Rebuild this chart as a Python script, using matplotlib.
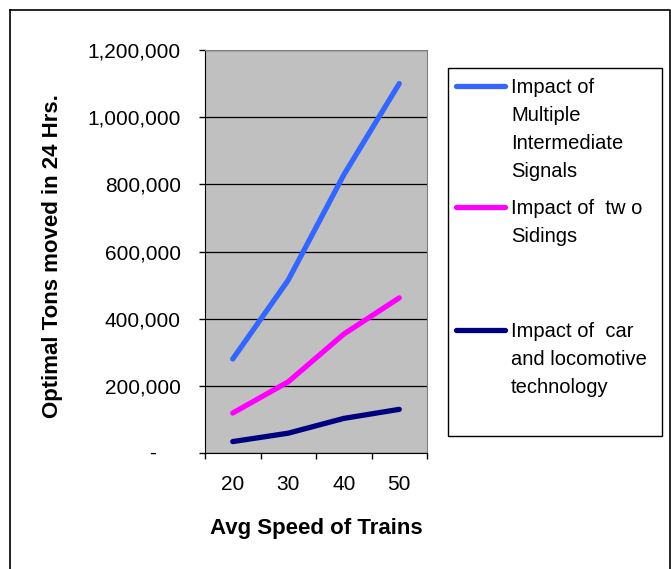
import matplotlib.pyplot as plt
from matplotlib.lines import Line2D
from matplotlib.patches import Rectangle
from matplotlib.ticker import FuncFormatter, FixedLocator

plt.rcParams['font.family'] = ['Liberation Sans', 'DejaVu Sans']

speeds = ['20', '30', '40', '50']
signals = [280000, 515000, 828000, 1100000]
sidings = [119000, 212000, 354000, 462000]
technology = [34000, 59000, 103000, 130000]

series_names = ['Impact of\nMultiple\nIntermediate\nSignals',
                'Impact of  tw o\nSidings',
                'Impact of  car\nand locomotive\ntechnology']
series_colors = ['#3366FF', '#FF00FF', '#000080']

W, H = 671, 569
fig = plt.figure(figsize=(W / 100, H / 100), dpi=100)


def px(x, y):
    # pixel position (from top-left) to figure fraction
    return x / W, 1 - y / H


ax = fig.add_axes([205 / W, (H - 453) / H, 222 / W, 403 / H])
ax.set_facecolor('#C0C0C0')

xs = range(len(speeds))
for vals, col in zip([signals, sidings, technology], series_colors):
    ax.plot(xs, vals, color=col, lw=3.8, solid_capstyle='round')

ax.set_xlim(-0.5, len(speeds) - 0.5)
ax.set_ylim(0, 1200000)
ax.set_yticks(range(0, 1200001, 200000))
ax.yaxis.set_major_formatter(FuncFormatter(lambda v, p: '' if v == 0 else '{:,.0f}'.format(v)))
ax.grid(axis='y', color='black', lw=0.9)
ax.set_axisbelow(True)
# zero shown as a dash, set further left (accounting style)
ax.annotate('-', xy=(0, 0), xycoords=('axes fraction', 'data'), xytext=(-49, 0),
            textcoords='offset pixels', ha='right', va='center', fontsize=15)

# category boundaries carry the ticks, centres carry the labels
ax.xaxis.set_major_locator(FixedLocator([i - 0.5 for i in range(len(speeds) + 1)]))
ax.xaxis.set_minor_locator(FixedLocator(list(xs)))
ax.set_xticklabels([])
ax.set_xticklabels(speeds, minor=True)
ax.tick_params(axis='x', which='major', length=4.3, width=1, direction='out')
ax.tick_params(axis='x', which='minor', length=0, pad=16, labelsize=15)
ax.tick_params(axis='y', length=4.3, width=1, direction='out', pad=13, labelsize=15)

for s in ['top', 'right']:
    ax.spines[s].set_color('#808080')
for s in ['left', 'bottom']:
    ax.spines[s].set_color('black')

ax.set_xlabel('Avg Speed of Trains', fontsize=16, fontweight='bold', labelpad=17)
ax.set_ylabel('Optimal Tons moved in 24 Hrs.', fontsize=16, fontweight='bold')
ax.yaxis.set_label_coords(-0.64, 0.489)

# legend box
x0, y0 = px(448, 436)
x1, y1 = px(662, 68)
fig.add_artist(Rectangle((x0, y0), x1 - x0, y1 - y0, transform=fig.transFigure,
                         fill=False, edgecolor='black', lw=1))
entry_top = [86, 207, 330]
for name, col, ty in zip(series_names, series_colors, entry_top):
    lx0, ly = px(456, ty)
    lx1, _ = px(505, ty)
    fig.add_artist(Line2D([lx0, lx1], [ly, ly], transform=fig.transFigure,
                          color=col, lw=3.8, solid_capstyle='round'))
    tx, _ = px(511, ty)
    _, ty_top = px(0, ty - 8)
    fig.text(tx, ty_top, name, fontsize=14.5, va='top', ha='left', linespacing=1.6)

# outer frame
bx0, by0 = px(9.5, 10)
bx1, _ = px(670, 10)
fig.add_artist(Line2D([bx0, bx1, bx1], [by0, by0, 0], transform=fig.transFigure, color='black', lw=1.2))
fig.add_artist(Line2D([bx0, bx0], [by0, 0], transform=fig.transFigure, color='black', lw=1.2))

fig.savefig('out.png', dpi=100)
